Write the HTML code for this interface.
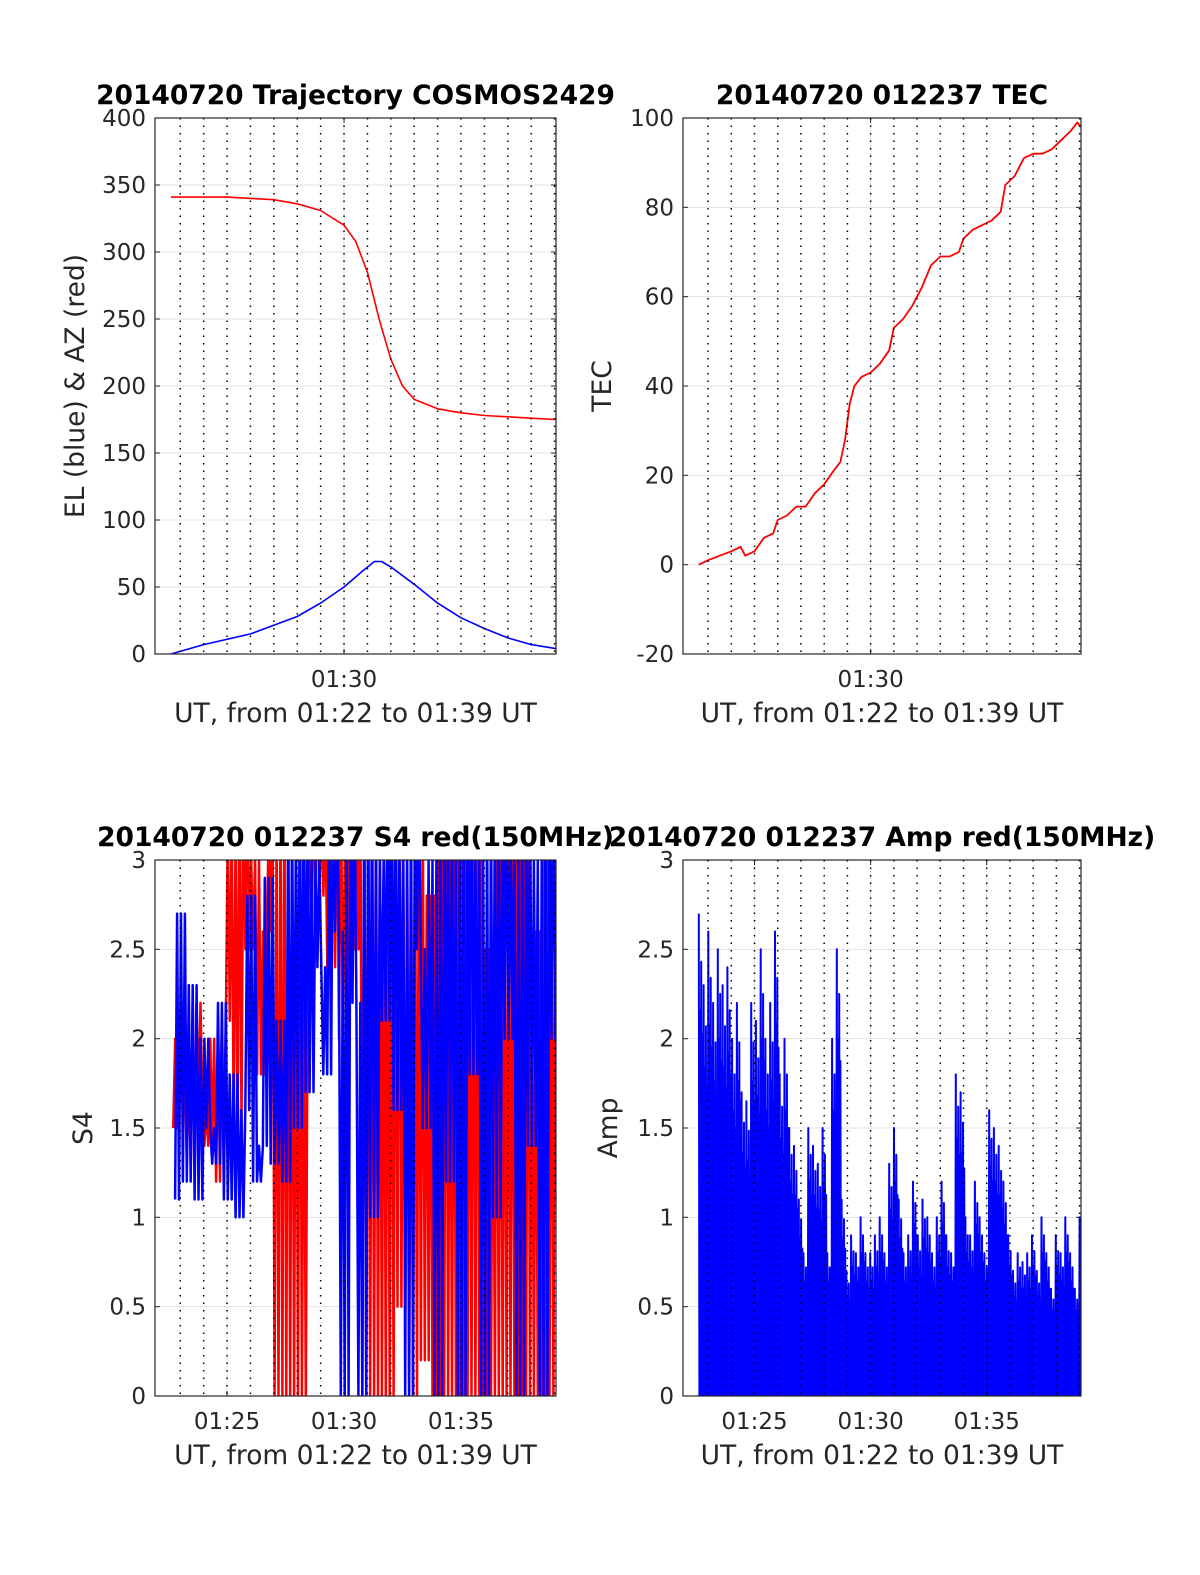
<!DOCTYPE html>
<html><head><meta charset="utf-8"><style>
body{margin:0;background:#fff;}
svg{display:block;font-family:"DejaVu Sans","Liberation Sans",sans-serif;}
</style></head><body>
<svg id="fig" width="1200" height="1575" viewBox="0 0 1200 1575" xmlns="http://www.w3.org/2000/svg"></svg>
<script>
// ---- data ----
const elTimes=[0.6,2,4,6,7,8,8.8,9.3,9.6,10,11,12,13,14,15,16,17.05];
const elValues=[0,7,15,28,38,50,62,69,69,65,52,38,27,19,12,7,4];
const azTimes=[0.6,3,5,6,7,8,8.5,9,9.5,10,10.5,11,12,13,14,15,16,17.05];
const azValues=[341,341,339,336,331,320,308,285,250,220,200,190,183,180,178,177,176,175];
const tecTimes=[0.6,1,1.5,2,2.4,2.6,3,3.4,3.8,4,4.4,4.8,5.2,5.6,6,6.4,6.7,6.9,7.1,7.3,7.6,8,8.4,8.8,9,9.4,9.8,10.2,10.6,11,11.4,11.8,12,12.4,12.8,13.2,13.6,13.8,14.2,14.6,15,15.4,15.8,16.2,16.6,16.9,17.06];
const tecValues=[0,1,2,3,4,2,3,6,7,10,11,13,13,16,18,21,23,28,36,40,42,43,45,48,53,55,58,62,67,69,69,70,73,75,76,77,79,85,87,91,92,92,93,95,97,99,98];
const ampValues=[2.7,2.3,2.6,2.2,2.5,2.3,2.4,2.0,2.2,1.7,1.65,2.2,2.1,2.5,2.0,2.2,2.6,1.8,2.0,1.5,1.4,1.1,0.8,1.5,1.4,1.3,1.5,0.8,2.0,2.5,1.1,0.7,0.9,0.8,1.0,0.8,0.8,0.9,1.0,0.8,1.3,1.5,1.1,0.8,0.9,1.2,0.9,1.1,1.0,0.8,1.0,1.2,0.9,0.8,1.8,1.7,1.0,0.9,1.2,1.0,0.8,1.6,1.5,1.4,1.2,0.9,0.7,0.8,0.75,0.8,0.9,0.7,1.0,0.8,0.6,0.9,0.8,1.0,0.8,0.6,1.0];
const s4Red=[1.5,2.0,1.8,1.3,2.2,1.6,1.4,2.0,1.2,2.1,3.2,1.5,3.5,2.5,3.0,1.8,2.6,3.2,0,3.5,0,3.2,0,2.5,3.5,2.8,3.3,2.4,3.5,2.0,3.0,2.5,3.5,0,3.5,0,3.2,0,3.5,0.5,3.0,0,3.3,0.2,2.8,0,3.5,0,3.0,0,3.2,0,3.5,0,2.5,0,3.0,0,3.2,0,3.5,0,2.6,0,3.0,0,3.3];
const s4Blue=[1.1,2.7,1.2,2.3,1.1,2.0,1.5,1.3,2.2,1.1,1.8,1.0,1.6,2.8,1.2,1.4,2.9,1.3,2.1,1.2,3.2,1.5,3.5,1.7,3.0,2.4,1.8,3.4,2.6,0,3.5,2.2,0,3.5,1.0,3.0,2.1,3.5,1.6,3.2,0,3.5,2.5,1.5,3.0,0,3.5,1.2,3.2,0,3.5,1.8,3.0,0,3.4,1.0,3.5,2.0,3.2,0,3.5,1.4,3.0,0,3.5,2.0,3.0];
const tickTimeLabels=["01:25","01:30","01:35"];
const tickTimeMinutes=[3,8,13];

const NS="http://www.w3.org/2000/svg";
const svg=document.getElementById('fig');
function mk(tag,attrs,parent){const e=document.createElementNS(NS,tag);for(const k in attrs)e.setAttribute(k,attrs[k]);(parent||svg).appendChild(e);return e;}

const T0=-0.08,T1=17.06;
function panel(id,L,T,R,B,ymin,ymax,ystep,yfmt,title,ylabel,xtickIdx){
  const g=mk('g',{});
  
  
  const xs=t=>L+(t-T0)/(T1-T0)*(R-L);
  const ys=v=>B-(v-ymin)/(ymax-ymin)*(B-T);
  for(let v=ymin;v<=ymax+1e-9;v+=ystep){
    const y=ys(v);
    const gl=mk('line',{x1:L,x2:R,y1:y,y2:y,stroke:'#e3e3e3','stroke-width':1},g);
    
    
    mk('line',{x1:L,x2:L+5,y1:y,y2:y,stroke:'#262626'},g);
    mk('line',{x1:R-5,x2:R,y1:y,y2:y,stroke:'#262626'},g);
    const tx=mk('text',{x:L-9,y:y+8,'text-anchor':'end','font-size':23,fill:'#262626'},g);
    tx.textContent=yfmt(v);
    
    
  }
  xtickIdx.forEach(i=>{
    const x=xs(tickTimeMinutes[i]);
    mk('line',{x1:x,x2:x,y1:T,y2:B,stroke:'#e3e3e3'},g);
    mk('line',{x1:x,x2:x,y1:B,y2:B-5,stroke:'#262626'},g);
    mk('line',{x1:x,x2:x,y1:T,y2:T+5,stroke:'#262626'},g);
    const tx=mk('text',{x:x,y:B+33,'text-anchor':'middle','font-size':23,fill:'#262626'},g);
    tx.textContent=tickTimeLabels[i];
    
    
  });
  const clipId='clip-'+id;
  const cp=mk('clipPath',{id:clipId},g);mk('rect',{x:L,y:T,width:R-L,height:B-T},cp);
  const plot=mk('g',{'clip-path':'url(#'+clipId+')'},g);
  const dots=mk('g',{},g);
  for(let m=1;m<=17;m++){const x=xs(m);mk('line',{x1:x,x2:x,y1:T,y2:B,stroke:'#000','stroke-width':1.5,'stroke-dasharray':'1.5 6'},dots);}
  const box=mk('rect',{x:L,y:T,width:R-L,height:B-T,fill:'none',stroke:'#262626','stroke-width':1.2},g);
  
  
  const ti=mk('text',{x:(L+R)/2,y:T-14,'text-anchor':'middle','font-size':26.5,'font-weight':'bold',fill:'#000'},g);
  ti.textContent=title;
  
  
  const xl=mk('text',{x:(L+R)/2,y:B+68,'text-anchor':'middle','font-size':26.5,fill:'#262626'},g);
  xl.textContent='UT, from 01:22 to 01:39 UT';
  
  
  const yl=mk('text',{transform:`translate(${ylabel[1]},${(T+B)/2}) rotate(-90)`,'text-anchor':'middle','font-size':26.5,fill:'#262626'},g);
  yl.textContent=ylabel[0];
  
  
  return {xs,ys,plot};
}
function line(p,times,vals,color,w,name){
  const pts=times.map((t,i)=>p.xs(t).toFixed(1)+','+p.ys(vals[i]).toFixed(1)).join(' ');
  const pl=mk('polyline',{points:pts,fill:'none',stroke:color,'stroke-width':w,'stroke-linejoin':'round'},p.plot);
  
  
}
const intFmt=v=>String(Math.round(v));
const decFmt=v=>String(Math.round(v*10)/10);

const p1=panel('trajectory',155,118,556,654,0,400,50,intFmt,'20140720 Trajectory COSMOS2429',['EL (blue) & AZ (red)',84],[1]);
line(p1,azTimes,azValues,'#ff0000',1.6,'azimuth-line');
line(p1,elTimes,elValues,'#0000ff',1.6,'elevation-line');

const p2=panel('tec',683,118,1081,654,-20,100,20,intFmt,'20140720 012237 TEC',['TEC',611],[1]);
line(p2,tecTimes,tecValues,'#ff0000',1.8,'tec-line');

const p3=panel('s4',155,860,556,1396,0,3,0.5,decFmt,'20140720 012237 S4 red(150MHz)',['S4',92],[0,1,2]);
function zig(vals,t0,step,sub){
  const ts=[],vs=[];
  for(let i=0;i<vals.length-1;i++){
    for(let k=0;k<sub;k++){ts.push(t0+i*step+k*step/sub);vs.push(k%2?vals[i+1]:vals[i]);}
  }
  return [ts,vs];
}
const zr=zig(s4Red,0.7,0.25,3);
line(p3,zr[0],zr[1],'#ff0000',2.5,'s4-red-line');
const zb=zig(s4Blue,0.78,0.25,3);
line(p3,zb[0],zb[1],'#0000ff',2.5,'s4-blue-line');

const p4=panel('amp',683,860,1081,1396,0,3,0.5,decFmt,'20140720 012237 Amp red(150MHz)',['Amp',617],[0,1,2]);
const dt=16.4/(ampValues.length-1);
const at=[],av=[];
const subF=[1,0,0.8,0,0.9,0,0.75,0];
ampValues.forEach((v,i)=>{const t=0.6+i*dt;subF.forEach((f,k)=>{at.push(t+k*dt/subF.length);av.push(v*f);});});
line(p4,at,av,'#0000ff',2,'amp-line');
</script>
</body></html>
